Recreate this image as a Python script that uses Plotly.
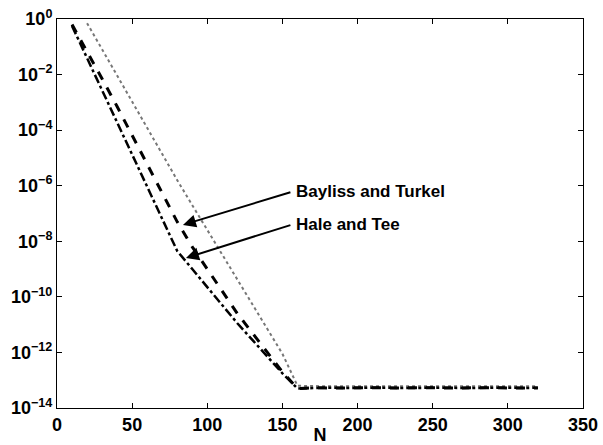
import plotly.graph_objects as go

# Data (log10 of error)
N_main = [10, 20, 30, 40, 50, 60, 70, 80, 90, 100, 110, 120, 130, 140, 150, 160,
          170, 180, 190, 200, 210, 220, 230, 240, 250, 260, 270, 280, 290, 300, 310, 320]
hale_log = [-0.25, -1.4, -2.55, -3.7, -4.85, -6.0, -7.15, -8.35, -9.0, -9.66, -10.32, -10.95,
            -11.55, -12.15, -12.75, -13.3,
            -13.28, -13.27, -13.28, -13.27, -13.28, -13.27, -13.28, -13.27, -13.28, -13.27,
            -13.28, -13.27, -13.28, -13.27, -13.28, -13.27]
bayliss_log = [-0.2, -1.15, -2.15, -3.15, -4.2, -5.25, -6.3, -7.3, -8.2, -9.0, -9.8, -10.6,
               -11.3, -12.0, -12.7, -13.3,
               -13.27, -13.28, -13.27, -13.28, -13.27, -13.28, -13.27, -13.28, -13.27, -13.28,
               -13.27, -13.28, -13.27, -13.28, -13.27, -13.28]
N_dot = [20, 30, 40, 50, 60, 70, 80, 90, 100, 110, 120, 130, 140, 150, 160,
         170, 180, 190, 200, 210, 220, 230, 240, 250, 260, 270, 280, 290, 300, 310, 320]
dot_log = [-0.15, -1.1, -2.05, -3.0, -3.9, -4.85, -5.8, -6.7, -7.6, -8.45, -9.35, -10.25,
           -11.15, -12.05, -13.2,
           -13.22, -13.22, -13.22, -13.22, -13.22, -13.22, -13.22, -13.22, -13.22, -13.22,
           -13.22, -13.22, -13.22, -13.22, -13.22, -13.22]

x_ticks = [0, 50, 100, 150, 200, 250, 300, 350]
y_exps = [0, -2, -4, -6, -8, -10, -12, -14]

hale = [10 ** v for v in hale_log]
bayliss = [10 ** v for v in bayliss_log]
dotted = [10 ** v for v in dot_log]

fig = go.Figure()
fig.add_trace(go.Scatter(x=N_dot, y=dotted, mode="lines",
                         line=dict(color="#777777", width=2, dash="dot"), name="ref"))
fig.add_trace(go.Scatter(x=N_main, y=bayliss, mode="lines",
                         line=dict(color="black", width=3, dash="dash"), name="Bayliss and Turkel"))
fig.add_trace(go.Scatter(x=N_main, y=hale, mode="lines",
                         line=dict(color="black", width=2.5, dash="dashdot"), name="Hale and Tee"))

fam = "Liberation Sans, Arial, sans-serif"
font = dict(family=fam, size=17, color="black")
tfont = dict(family=fam, size=18, color="black")

fig.update_layout(
    width=603, height=445,
    margin=dict(l=57, r=20, t=19, b=37, autoexpand=False),
    plot_bgcolor="white", paper_bgcolor="white",
    showlegend=False,
    font=font,
    xaxis=dict(range=[0, 350], tickvals=x_ticks, ticktext=[f"<b>{t}</b>" for t in x_ticks],
               tickfont=tfont, automargin=False,
               ticks="inside", ticklen=5, tickcolor="black", showline=True, linecolor="black",
               linewidth=1, mirror="ticks", showgrid=False, zeroline=False,
               title=dict(text="<b>N</b>", standoff=0, font=tfont)),
    yaxis=dict(type="log", range=[-14, 0], tickvals=[10 ** e for e in y_exps],
               ticktext=[f"<b>10<sup>{str(e).replace('-', '−')}</sup></b>" for e in y_exps],
               tickfont=tfont, automargin=False,
               ticks="inside", ticklen=5, tickcolor="black", showline=True, linecolor="black",
               linewidth=1, mirror="ticks", showgrid=False, zeroline=False),
)

labels = [("Bayliss and Turkel", 83.8, -7.41, 156.3, -6.22),
          ("Hale and Tee", 85.8, -8.6, 156.3, -7.4)]
for text, tx, ty, sx, sy in labels:
    fig.add_annotation(x=tx, y=ty, ax=sx, ay=sy, xref="x", yref="y", axref="x", ayref="y",
                       text="", showarrow=True, arrowhead=2, arrowsize=1.3, arrowwidth=2,
                       arrowcolor="black")
    fig.add_annotation(x=sx + 1.5, y=sy, xref="x", yref="y", text=f"<b>{text}</b>",
                       showarrow=False, xanchor="left", yanchor="middle", font=font)

fig.write_html("out.html")
